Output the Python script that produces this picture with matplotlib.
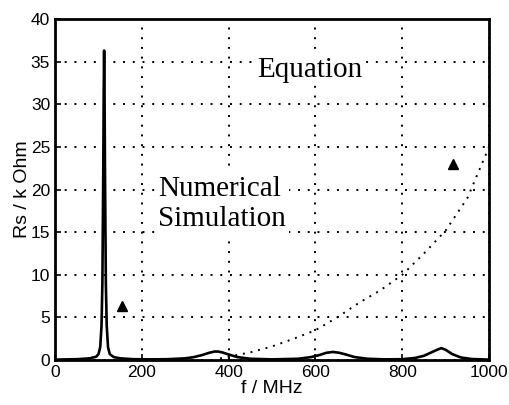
import matplotlib
matplotlib.use("Agg")
import matplotlib.pyplot as plt

# numerical simulation (solid line)
sim_f = [0, 50, 80, 95, 100, 104, 107, 109, 111, 112, 113, 114, 115, 117, 119, 122, 126,
         135, 150, 180, 220, 260, 300, 320, 340, 355, 368, 375, 385, 400, 420, 450, 500,
         560, 590, 610, 625, 640, 655, 670, 690, 720, 760, 800, 830, 850, 865, 880, 890,
         900, 915, 935, 960, 1000]
sim_rs = [0.05, 0.1, 0.2, 0.4, 0.7, 1.5, 4.0, 9.0, 22.0, 31.0, 36.3, 31.0, 22.0, 9.0, 4.0,
          1.5, 0.7, 0.35, 0.2, 0.1, 0.08, 0.1, 0.2, 0.35, 0.6, 0.85, 1.0, 1.0, 0.9, 0.65,
          0.35, 0.15, 0.08, 0.15, 0.35, 0.6, 0.85, 0.95, 0.85, 0.65, 0.35, 0.15, 0.08, 0.1,
          0.25, 0.5, 0.85, 1.2, 1.4, 1.2, 0.7, 0.3, 0.12, 0.05]

# equation (dotted line)
eq_f = [380, 420, 450, 500, 550, 600, 650, 700, 750, 800, 850, 900, 950, 1000]
eq_rs = [0.2, 0.6, 0.9, 1.6, 2.5, 3.5, 5.0, 6.7, 8.2, 10.0, 12.5, 15.2, 19.0, 25.0]

# measured points (triangles)
meas_f = [155, 917]
meas_rs = [6.3, 23.0]

fig = plt.figure(figsize=(5.1, 4.05), dpi=100)
ax = fig.add_axes([0.108, 0.111, 0.851, 0.842])

ax.grid(True, color="black", linestyle=(0, (1, 4)), linewidth=1.4, zorder=0)
ax.set_axisbelow(True)

ax.plot(sim_f, sim_rs, color="black", linewidth=1.9, zorder=3)
ax.plot(eq_f, eq_rs, color="black", linestyle=(0, (1, 3)), linewidth=1.4, zorder=3)
ax.plot(meas_f, meas_rs, linestyle="none", marker="^", color="black", markersize=7, zorder=4)

ax.text(587, 34.0, "Equation", family="Liberation Serif", fontsize=21,
        ha="center", va="center", zorder=2,
        bbox=dict(facecolor="white", edgecolor="none", pad=1))
ax.text(237, 18.3, "Numerical\nSimulation", family="Liberation Serif", fontsize=21,
        ha="left", va="center", linespacing=1.2, zorder=2,
        bbox=dict(facecolor="white", edgecolor="none", pad=2))

ax.set_xlim(0, 1000)
ax.set_ylim(0, 40)
ax.set_xticks([0, 200, 400, 600, 800, 1000])
ax.set_yticks([0, 5, 10, 15, 20, 25, 30, 35, 40])
ax.tick_params(direction="in", length=4, width=1.2, labelsize=12.5)
for lab in ax.get_xticklabels() + ax.get_yticklabels():
    lab.set_family("Liberation Sans")
for sp in ax.spines.values():
    sp.set_linewidth(2)

ax.set_xlabel("f / MHz", family="Liberation Sans", fontsize=14, labelpad=0)
ax.set_ylabel("Rs / k Ohm", family="Liberation Sans", fontsize=14, labelpad=0)

fig.savefig("out.png", dpi=100)
